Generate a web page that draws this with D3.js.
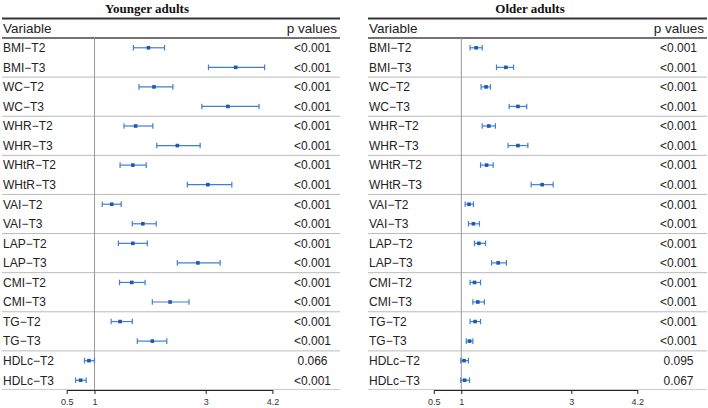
<!DOCTYPE html>
<html><head><meta charset="utf-8">
<script src="https://cdn.jsdelivr.net/npm/d3@7"></script>
<style>body{margin:0;background:#fff}svg{display:block}</style>
</head><body>
<script>
const variables = ["BMI−T2","BMI−T3","WC−T2","WC−T3","WHR−T2","WHR−T3","WHtR−T2","WHtR−T3","VAI−T2","VAI−T3","LAP−T2","LAP−T3","CMI−T2","CMI−T3","TG−T2","TG−T3","HDLc−T2","HDLc−T3"];
const youngOR  = [1.97,3.54,2.07,3.40,1.74,2.49,1.69,3.04,1.31,1.87,1.69,2.86,1.67,2.36,1.46,2.04,0.90,0.75];
const youngLo  = [1.70,3.05,1.80,2.93,1.53,2.12,1.46,2.67,1.14,1.68,1.43,2.49,1.45,2.04,1.30,1.77,0.82,0.66];
const youngHi  = [2.26,4.06,2.41,3.96,2.05,2.90,1.93,3.47,1.48,2.11,1.95,3.26,1.91,2.70,1.68,2.30,1.00,0.85];
const youngP   = ["<0.001","<0.001","<0.001","<0.001","<0.001","<0.001","<0.001","<0.001","<0.001","<0.001","<0.001","<0.001","<0.001","<0.001","<0.001","<0.001","0.066","<0.001"];
const olderOR  = [1.27,1.81,1.45,2.03,1.50,2.03,1.46,2.47,1.14,1.22,1.32,1.67,1.24,1.30,1.25,1.15,1.05,1.06];
const olderLo  = [1.16,1.64,1.36,1.87,1.38,1.85,1.35,2.27,1.07,1.13,1.24,1.55,1.16,1.21,1.16,1.09,0.99,0.99];
const olderHi  = [1.38,1.95,1.53,2.19,1.62,2.21,1.58,2.67,1.22,1.33,1.44,1.82,1.35,1.42,1.35,1.21,1.13,1.15];
const olderP   = ["<0.001","<0.001","<0.001","<0.001","<0.001","<0.001","<0.001","<0.001","<0.001","<0.001","<0.001","<0.001","<0.001","<0.001","<0.001","<0.001","0.095","0.067"];
const tickValues = [0.5,1,3,4.2];
const titles = ["Younger adults","Older adults"];

const W=708,H=408;
const svg=d3.select("body").append("svg").attr("width",W).attr("height",H);
const sans="'Liberation Sans', Arial, sans-serif";

const y=d3.scaleBand().domain(variables).range([38,390]).paddingInner(0).paddingOuter(0);

function panel(cfg){
  const g=svg.append("g");
  const x=d3.scaleLinear().domain([0.5,4.2]).range(cfg.xr);
  // title
  g.append("text").attr("x",cfg.tx).attr("y",13).attr("text-anchor","middle")
    .attr("font-family","'Liberation Serif','Times New Roman',serif").attr("font-weight","bold")
    .attr("font-size",13).attr("fill","#111").text(cfg.title);
  // top line
  g.append("line").attr("x1",cfg.x0).attr("x2",cfg.x1).attr("y1",18.5).attr("y2",18.5).attr("stroke","#333").attr("stroke-width",2);
  g.append("line").attr("x1",cfg.x0).attr("x2",cfg.x1).attr("y1",38).attr("y2",38).attr("stroke","#444").attr("stroke-width",1.3);
  // header
  g.append("text").attr("x",cfg.x0+1).attr("y",33).attr("font-family",sans).attr("font-size",13.5).attr("fill","#222").text("Variable");
  g.append("text").attr("x",cfg.x1-3).attr("y",33).attr("text-anchor","end").attr("font-family",sans).attr("font-size",13.5).attr("fill","#222").text("p values");
  // group separators
  for(let i=1;i<variables.length/2;i++){
    const yy=y(variables[i*2]);
    g.append("line").attr("x1",cfg.x0).attr("x2",cfg.x1).attr("y1",yy).attr("y2",yy).attr("stroke","#bbb").attr("stroke-width",1);
  }
  g.append("line").attr("x1",cfg.x0).attr("x2",cfg.x1).attr("y1",389.5).attr("y2",389.5).attr("stroke","#ccc").attr("stroke-width",1);
  // reference line
  g.append("line").attr("x1",x(1)).attr("x2",x(1)).attr("y1",38).attr("y2",390).attr("stroke","#999").attr("stroke-width",1);
  // labels
  g.selectAll("text.var").data(variables).join("text").attr("class","var")
    .attr("x",cfg.x0+1).attr("y",d=>y(d)+y.bandwidth()/2+4.3)
    .attr("font-family",sans).attr("font-size",12).attr("fill","#222").text(d=>d);
  g.selectAll("text.p").data(cfg.p).join("text").attr("class","p")
    .attr("x",cfg.pc).attr("y",(d,i)=>y(variables[i])+y.bandwidth()/2+4.3).attr("text-anchor","middle")
    .attr("font-family",sans).attr("font-size",12).attr("fill","#222").text(d=>d);
  // error bars
  const col="#3f7fd3", dot="#1d58b4";
  variables.forEach((v,i)=>{
    const cy=y(v)+y.bandwidth()/2;
    g.append("line").attr("x1",x(cfg.lo[i])).attr("x2",x(cfg.hi[i])).attr("y1",cy).attr("y2",cy).attr("stroke",col).attr("stroke-width",1.2);
    [cfg.lo[i],cfg.hi[i]].forEach(e=>g.append("line").attr("x1",x(e)).attr("x2",x(e)).attr("y1",cy-2.8).attr("y2",cy+2.8).attr("stroke",col).attr("stroke-width",1.2));
    g.append("rect").attr("x",x(cfg.or[i])-1.8).attr("y",cy-1.8).attr("width",3.6).attr("height",3.6).attr("fill",dot);
  });
  // axis
  const ax=g.append("g").attr("transform","translate(0,390)").call(d3.axisBottom(x).tickValues(tickValues).tickSize(4).tickFormat(d3.format("")).tickSizeOuter(0));
  ax.select(".domain").attr("stroke","#222");
  ax.selectAll(".tick line").attr("stroke","#222");
  ax.selectAll(".tick text").attr("font-family",sans).attr("font-size",9).attr("fill","#333").attr("dy","0.9em");
}

panel({title:titles[0],tx:147,x0:2,x1:340,xr:[66.7,272.4],or:youngOR,lo:youngLo,hi:youngHi,p:youngP,pc:312.5});
panel({title:titles[1],tx:530,x0:368,x1:707,xr:[433.8,637.3],or:olderOR,lo:olderLo,hi:olderHi,p:olderP,pc:678.5});
</script>
</body></html>
